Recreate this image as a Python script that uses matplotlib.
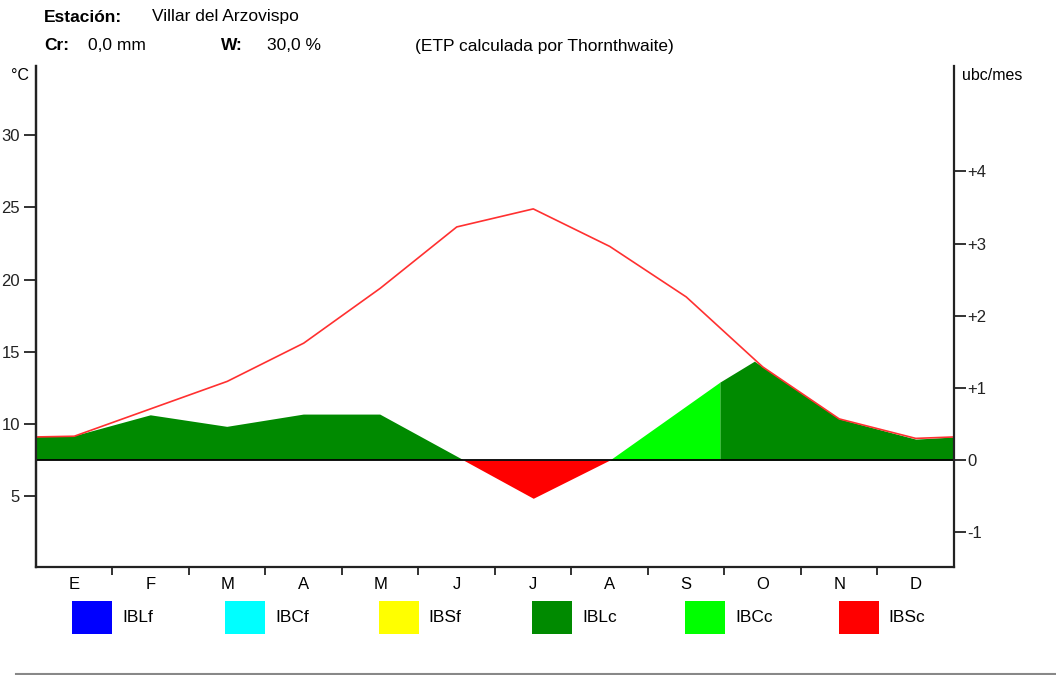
import numpy as np
import matplotlib.pyplot as plt
from matplotlib.patches import Rectangle
from matplotlib.lines import Line2D

plt.rcParams['font.family'] = ['Liberation Sans', 'DejaVu Sans']

# month labels (Spanish initials)
months = ['E', 'F', 'M', 'A', 'M', 'J', 'J', 'A', 'S', 'O', 'N', 'D']

# potential bioclimatic intensity (red line), ubc/mes, x in months (0 = start of Jan)
ibp_x = [0.0, 0.5, 1.5, 2.5, 3.5, 4.5, 5.5, 6.5, 7.5, 8.5, 9.5, 10.5, 11.5, 12.0]
ibp_y = [0.32, 0.33, 0.71, 1.09, 1.62, 2.38, 3.23, 3.48, 2.96, 2.26, 1.29, 0.57, 0.30, 0.32]

# real bioclimatic intensity (filled area), ubc/mes
ibr_x = [0.0, 0.5, 1.5, 2.5, 3.5, 4.5, 5.5, 6.5, 7.5, 8.94, 9.39, 9.5, 10.5, 11.5, 12.0]
ibr_y = [0.32, 0.33, 0.62, 0.46, 0.63, 0.63, 0.05, -0.53, 0.0, 1.08, 1.37, 1.29, 0.57, 0.29, 0.32]

# index of the points where the bioclimatic class changes
i_aug = 8     # end of IBLc / start of IBCc
i_oct = 9     # end of IBCc / start of IBLc

legend_labels = ['IBLf', 'IBCf', 'IBSf', 'IBLc', 'IBCc', 'IBSc']
legend_colors = ['#0000ff', '#00ffff', '#ffff00', '#008a00', '#00ff00', '#ff0000']

temp_ticks = [5, 10, 15, 20, 25, 30]
ubc_ticks = [-1, 0, 1, 2, 3, 4]
ubc_labels = ['-1', '0', '+1', '+2', '+3', '+4']

header_station = 'Villar del Arzovispo'
header_cr = '0,0 mm'
header_w = '30,0 %'
header_note = '(ETP calculada por Thornthwaite)'

x = np.array(ibr_x)
y = np.array(ibr_y)

W, H = 1056, 675
fig = plt.figure(figsize=(W / 100, H / 100), dpi=100)
ax = fig.add_axes([36 / W, 1 - 567 / H, (954 - 36) / W, (567 - 66) / H])

green = legend_colors[3]
light = legend_colors[4]
red = legend_colors[5]

# first block: IBLc positive, IBSc negative
xs, ys = x[:i_aug + 1], y[:i_aug + 1]
ax.fill_between(xs, 0, ys, where=ys >= 0, interpolate=True, color=green, lw=0)
ax.fill_between(xs, 0, ys, where=ys <= 0, interpolate=True, color=red, lw=0)
# IBCc
ax.fill_between(x[i_aug:i_oct + 1], 0, y[i_aug:i_oct + 1], color=light, lw=0)
# IBLc again
ax.fill_between(x[i_oct:], 0, y[i_oct:], color=green, lw=0)

ax.axhline(0, color='black', lw=1.3)
ax.plot(ibp_x, ibp_y, color='#ff3030', lw=1.2)

ax.set_xlim(0, 12)
ax.set_ylim(-1.482, 5.46)

# spines
for s in ['left', 'right', 'bottom']:
    ax.spines[s].set_linewidth(1.6)
    ax.spines[s].set_color('#222222')
ax.spines['top'].set_visible(False)

# right axis: ubc/mes
ax.yaxis.tick_right()
ax.set_yticks(ubc_ticks)
ax.set_yticklabels(ubc_labels)
ax.tick_params(axis='y', direction='out', length=8.5, width=1.3, pad=1,
               labelsize=12, colors='#222222')

# bottom: month boundaries as ticks, names between them
ax.set_xticks(np.arange(12) + 0.5)
ax.set_xticklabels(months)
ax.set_xticks(np.arange(1, 12), minor=True)
ax.tick_params(axis='x', which='major', length=0, pad=7, labelsize=12)
ax.tick_params(axis='x', which='minor', direction='out', length=6, width=1.3, color='#222222')

# left axis: temperature
sec = ax.secondary_yaxis('left', functions=(lambda u: 7.5 + 5 * u, lambda t: (t - 7.5) / 5))
sec.set_yticks(temp_ticks)
sec.tick_params(direction='out', length=8.5, width=1.3, pad=3, labelsize=12, colors='#222222')
sec.spines['left'].set_linewidth(1.6)
sec.spines['left'].set_color('#222222')

fig.text(11 / W, 1 - 76 / H, '°C', fontsize=11.5, va='center', ha='left')
fig.text(962 / W, 1 - 76 / H, 'ubc/mes', fontsize=11.5, va='center', ha='left')

# header
fs = 12.5
fig.text(44 / W, 1 - 17 / H, 'Estación:', fontsize=fs, weight='bold', va='center')
fig.text(152 / W, 1 - 17 / H, header_station, fontsize=fs, va='center')
fig.text(44 / W, 1 - 46 / H, 'Cr:', fontsize=fs, weight='bold', va='center')
fig.text(88 / W, 1 - 46 / H, header_cr, fontsize=fs, va='center')
fig.text(221 / W, 1 - 46 / H, 'W:', fontsize=fs, weight='bold', va='center')
fig.text(267 / W, 1 - 46 / H, header_w, fontsize=fs, va='center')
fig.text(415 / W, 1 - 46 / H, header_note, fontsize=fs, va='center')

# legend boxes below the months
for k, (lab, col) in enumerate(zip(legend_labels, legend_colors)):
    x0 = (72 + k * 153.3) / W
    fig.patches.append(Rectangle((x0, 1 - 634 / H), 40 / W, 33 / H,
                                 transform=fig.transFigure, color=col, lw=0))
    fig.text(x0 + 50 / W, 1 - 617 / H, lab, fontsize=fs, va='center')

# grey rule at the bottom
fig.add_artist(Line2D([16 / W, 1], [1 - 674 / H] * 2, color='#888888', lw=1.5))

plt.savefig('out.png', dpi=100)
